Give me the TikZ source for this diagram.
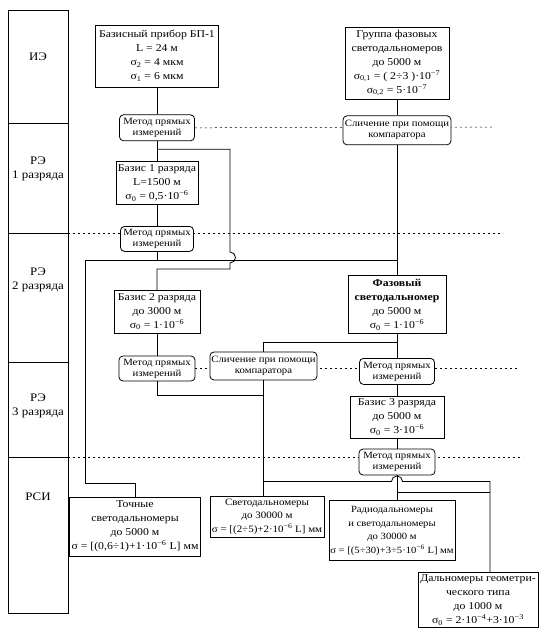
\documentclass[tikz,border=0pt]{standalone}
\usepackage{fontspec}
\setmainfont{Liberation Serif}[FakeStretch=1.12]
\usetikzlibrary{calc}
\usetikzlibrary{positioning}
\usetikzlibrary{backgrounds}

\newcommand{\sgm}[1]{σ\textsubscript{#1}}
\newcommand{\tenp}[1]{10\textsuperscript{#1}}

\begin{document}
\begin{tikzpicture}[x=1pt, y=-1pt, line width=0.8pt, node distance=20pt, font=\fontsize{10.5}{14}\selectfont]
    \tikzstyle{level}=[draw, rectangle, minimum width=60pt, inner sep=0pt, outer sep=0pt]
    \tikzstyle{levtext}=[align=center, font=\fontsize{11.5}{14}\selectfont]
    \tikzstyle{block}=[draw, rectangle, fill=white, inner sep=2pt, align=center]
    \tikzstyle{method}=[draw, rectangle, rounded corners=4pt, fill=white, inner sep=1.5pt, align=center, font=\fontsize{9.6}{11}\selectfont]
    \tikzstyle{grid}=[line width=0.5pt, dash pattern=on 2pt off 3pt]

    \useasboundingbox (0,0) rectangle (542,643);

    % levels
    \node[level, minimum height=113pt, anchor=north] (ie) at (38,10) {};
    \node[level, minimum height=110pt, below=0pt of ie] (re1) {};
    \node[level, minimum height=129pt, below=0pt of re1] (re2) {};
    \node[level, minimum height=95pt, below=0pt of re2] (re3) {};
    \node[level, minimum height=156pt, below=0pt of re3] (rsi) {};
    \node[levtext] (ielab) at ($(ie.north)+(0,47)$) {ИЭ};
    \node[levtext] (re1lab) at ($(re1.north)+(0,46)$) {РЭ\\1 разряда};
    \node[levtext] (re2lab) at ($(re2.north)+(0,47)$) {РЭ\\2 разряда};
    \node[levtext] (re3lab) at ($(re3.north)+(0,44)$) {РЭ\\3 разряда};
    \node[levtext] (rsilab) at ($(rsi.north)+(0,40)$) {РСИ};

    % left column
    \node[block, minimum width=123pt, minimum height=62pt] (bp) at (157,56) {Базисный прибор БП-1\\L = 24 м\\\sgm{2} = 4 мкм\\\sgm{1} = 6 мкм};
    \node[method, minimum width=75pt, minimum height=26pt, below=27pt of bp] (m0) {Метод прямых\\измерений};
    \node[block, minimum width=80pt, minimum height=43pt, below=20pt of m0] (b1) {Базис 1 разряда\\L=1500 м\\\sgm{0} = 0,5·\tenp{−6}};
    \node[method, minimum width=73pt, minimum height=25pt, below=21pt of b1] (m1) {Метод прямых\\измерений};
    \node[block, minimum width=86pt, minimum height=43pt, below=38pt of m1] (b2) {Базис 2 разряда\\до 3000 м\\\sgm{0} = 1·\tenp{−6}};
    \node[method, minimum width=76pt, minimum height=25pt, below=22pt of b2] (m2) {Метод прямых\\измерений};

    % right column
    \node[block, minimum width=104pt, minimum height=72pt] (grp) at (397,63) {Группа фазовых\\светодальномеров\\до 5000 м\\\sgm{0,1} = ( 2÷3 )·\tenp{−7}\\\sgm{0,2} = 5·\tenp{−7}};
    \node[method, minimum width=108pt, minimum height=29pt, below=16pt of grp] (s0) {Сличение при помощи\\компаратора};
    \node[block, minimum width=98pt, minimum height=58pt, below=130pt of s0] (ph) {\textbf{Фазовый}\\\textbf{светодальномер}\\до 5000 м\\\sgm{0} = 1·\tenp{−6}};
    \node[method, minimum width=75pt, minimum height=26pt, below=24pt of ph] (m3) {Метод прямых\\измерений};
    \node[block, minimum width=94pt, minimum height=42pt, below=11pt of m3] (b3) {Базис 3 разряда\\до 5000 м\\\sgm{0} = 3·\tenp{−6}};
    \node[method, minimum width=76pt, minimum height=26pt, below=10pt of b3] (m4) {Метод прямых\\измерений};
    \node[block, minimum width=126pt, minimum height=60pt, inner sep=1pt, font=\fontsize{9.5}{13.5}\selectfont, below=25pt of m4, xshift=-5pt] (rd) {Радиодальномеры\\и светодальномеры\\до 30000 м\\σ = [(5÷30)+3÷5·\tenp{−6} L] мм};

    \node[method, minimum width=103pt, minimum height=28pt] (s2) at (263.5,366) {Сличение при помощи\\компаратора};
    \node[block, minimum width=128pt, minimum height=59pt] (pr) at (135,526.5) {Точные\\светодальномеры\\до 5000 м\\σ = [(0,6÷1)+1·\tenp{−6} L] мм};
    \node[block, minimum width=114pt, minimum height=41pt, inner sep=1pt, font=\fontsize{9.8}{13.5}\selectfont] (sv) at (267,516.5) {Светодальномеры\\до 30000 м\\σ = [(2÷5)+2·\tenp{−6} L] мм};
    \node[block, minimum width=120pt, minimum height=54pt] (gm) at (478,600) {Дальномеры геометри-\\ческого типа\\до 1000 м\\\sgm{0} = 2·\tenp{−4}+3·\tenp{−3}};

    \coordinate (j0) at ($(m0.south)+(0,8)$);
    \coordinate (j1) at ($(m1.south)+(0,9)$);
    \coordinate (j2) at (85,483);
    \coordinate (j3) at ($(ph.south)+(0,8)$);
    \coordinate (j4) at ($(s2.south)+(0,101)$);
    \coordinate (j5) at ($(m4.south)+(0,17)$);
    \coordinate (gmin) at ($(gm.north)+(12,0)$);

    \path (bp.south) edge (m0.north)
          (m0.south) edge (b1.north)
          (b1.south) edge (m1.north)
          (b2.south) edge (m2.north)
          (grp.south) edge (s0.north)
          (s0.south) edge (ph.north)
          (ph.south) edge (m3.north)
          (m3.south) edge (b3.north)
          (b3.south) edge (m4.north)
          (m4.south) edge (m4.south |- rd.north)
          (s2.south) edge (s2.south |- sv.north)
          (m1.south) edge (j1);

    \draw (j0) -| (230,252) arc[start angle=90, end angle=-90, radius=5.5pt] -- (230,269) -| (b2.north);
    \draw (ph.north |- j1) -- (j1 -| j2) -- (j2) -| (pr.north);
    \draw (j3) -| (s2.north);
    \draw (m2.south) |- ($(s2.south)+(0,15)$);
    \draw (j4) -- ($(m4.south |- j4)+(-5.5,0)$) arc[start angle=180, end angle=0, radius=5.5pt] -| (gmin);
    \draw (j5) -- (j5 -| gmin);

    \begin{scope}[on background layer]
        \draw[grid] (m0.east) -- (493,127);
        \draw[grid] (re1.south east) -- ++(435,0);
        \draw[grid] (m2.east) -- ++(322,0);
        \draw[grid] (re3.south east) -- ++(455,0);
    \end{scope}
\end{tikzpicture}
\end{document}
